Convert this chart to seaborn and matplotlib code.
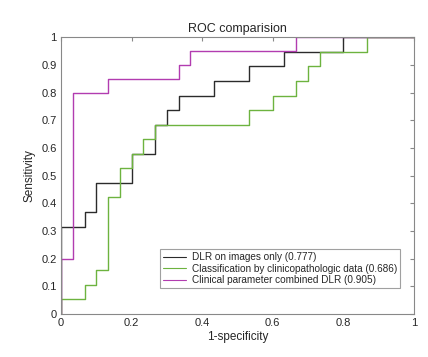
import pandas as pd
import seaborn as sns
import matplotlib
matplotlib.use('Agg')
import matplotlib.pyplot as plt

# ROC corner points
fpr_dlr = [0, 0, 0.0667, 0.0667, 0.1, 0.1, 0.2, 0.2, 0.2667, 0.2667, 0.3, 0.3, 0.3333, 0.3333,
           0.4333, 0.4333, 0.5333, 0.5333, 0.6333, 0.6333, 0.8, 0.8, 1]
tpr_dlr = [0, 0.316, 0.316, 0.368, 0.368, 0.474, 0.474, 0.579, 0.579, 0.684, 0.684, 0.737, 0.737, 0.789,
           0.789, 0.842, 0.842, 0.895, 0.895, 0.947, 0.947, 1, 1]

fpr_clin = [0, 0, 0.0667, 0.0667, 0.1, 0.1, 0.1333, 0.1333, 0.1667, 0.1667, 0.2, 0.2, 0.2333, 0.2333,
            0.2667, 0.2667, 0.5333, 0.5333, 0.6, 0.6, 0.6667, 0.6667, 0.7, 0.7, 0.7333, 0.7333,
            0.8667, 0.8667, 1]
tpr_clin = [0, 0.053, 0.053, 0.105, 0.105, 0.158, 0.158, 0.421, 0.421, 0.526, 0.526, 0.579, 0.579, 0.632,
            0.632, 0.684, 0.684, 0.737, 0.737, 0.789, 0.789, 0.842, 0.842, 0.895, 0.895, 0.947,
            0.947, 1, 1]

fpr_comb = [0, 0, 0.0333, 0.0333, 0.1333, 0.1333, 0.3333, 0.3333, 0.3667, 0.3667, 0.6667, 0.6667, 1]
tpr_comb = [0, 0.2, 0.2, 0.8, 0.8, 0.85, 0.85, 0.9, 0.9, 0.95, 0.95, 1, 1]

labels = ['DLR on images only (0.777)',
          'Classification by clinicopathologic data (0.686)',
          'Clinical parameter combined DLR (0.905)']
colors = ['#2b2b2b', '#6db33f', '#b23cb0']

df = pd.concat([
    pd.DataFrame({'fpr': fpr_dlr, 'tpr': tpr_dlr, 'model': labels[0]}),
    pd.DataFrame({'fpr': fpr_clin, 'tpr': tpr_clin, 'model': labels[1]}),
    pd.DataFrame({'fpr': fpr_comb, 'tpr': tpr_comb, 'model': labels[2]}),
])

sns.set_style('white')
plt.rcParams['font.family'] = ['Liberation Sans', 'DejaVu Sans']
plt.rcParams['font.size'] = 8

fig = plt.figure(figsize=(4.28, 3.57), dpi=100)
ax = fig.add_axes([0.1425, 0.1204, 0.8245, 0.7756])
sns.lineplot(data=df, x='fpr', y='tpr', hue='model', palette=colors, sort=False,
             estimator=None, linewidth=1.0, ax=ax)

ax.set_xlim(0, 1)
ax.set_ylim(0, 1)
ax.set_xticks([0, 0.2, 0.4, 0.6, 0.8, 1])
ax.set_xticklabels(['0', '0.2', '0.4', '0.6', '0.8', '1'])
ax.set_yticks([i / 10 for i in range(11)])
ax.set_yticklabels(['0'] + [f'{i / 10:g}' for i in range(1, 10)] + ['1'])
ax.tick_params(direction='in', length=3, color='#888888', top=True, right=True,
               labelsize=8, pad=3)
for sp in ax.spines.values():
    sp.set_color('#888888')
    sp.set_linewidth(0.8)
ax.set_xlabel('1-specificity', fontsize=8.5, labelpad=2)
ax.set_ylabel('Sensitivity', fontsize=8.5, labelpad=4)
ax.set_title('ROC comparision', fontsize=9, pad=4)

leg = ax.legend(loc='lower right', bbox_to_anchor=(0.975, 0.075), fontsize=7.2,
                frameon=True, fancybox=False, handlelength=2.3, borderpad=0.3,
                labelspacing=0.15, handletextpad=0.6)
leg.get_frame().set_edgecolor('#888888')
leg.get_frame().set_linewidth(0.8)
for line in leg.get_lines():
    line.set_linewidth(0.8)

fig.savefig('out.png', dpi=100)
